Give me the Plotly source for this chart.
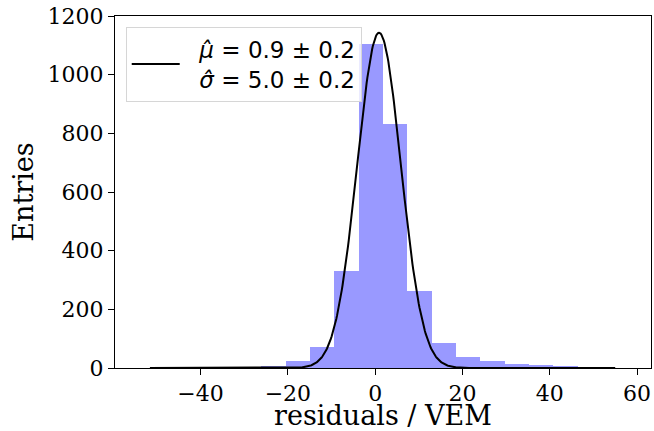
import numpy as np
import plotly.graph_objects as go

# Histogram: 20 bins between -54.0 and 57.6
bin_edges = list(np.linspace(-54.0, 57.6, 21))
counts = [0, 0, 0, 0, 1, 8, 23, 72, 330, 1105, 833, 261, 84, 38, 23, 15, 9, 7, 2, 1]

# Gaussian fit parameters (from legend) and curve amplitude
fit_mu = 0.9
fit_sigma = 5.0
fit_amplitude = 1143
curve_range = [-51.6, 55.0]

x_ticks = [-40, -20, 0, 20, 40, 60]
y_ticks = [0, 200, 400, 600, 800, 1000, 1200]

edges = np.array(bin_edges)
centers = 0.5 * (edges[:-1] + edges[1:])
widths = np.diff(edges)

xc = np.linspace(curve_range[0], curve_range[1], 600)
yc = fit_amplitude * np.exp(-0.5 * ((xc - fit_mu) / fit_sigma) ** 2)

fig = go.Figure()
fig.add_trace(go.Bar(
    x=centers, y=counts, width=widths,
    marker=dict(color="rgba(0,0,255,0.4)", line=dict(width=0)),
    showlegend=False, hoverinfo="skip",
))
nb = "\u00a0\u00a0"
fig.add_trace(go.Scatter(
    x=xc, y=yc, mode="lines",
    line=dict(color="black", width=2),
    name=f"{nb}<i>μ̂</i> = 0.9 ± 0.2<br>{nb}<i>σ̂</i> = 5.0 ± 0.2",
))

axis_common = dict(
    showline=True, linecolor="black", linewidth=1, mirror=True,
    ticks="outside", ticklen=6, tickcolor="black", tickwidth=1,
    showgrid=False, zeroline=False, automargin=False,
    ticklabeloverflow="allow",
    tickfont=dict(family="DejaVu Serif", size=22, color="black"),
)

fig.update_layout(
    width=654, height=431,
    margin=dict(l=115, r=3, t=16, b=63),
    paper_bgcolor="white", plot_bgcolor="white",
    bargap=0,
    xaxis=dict(
        range=[-59.6, 63.2], tickvals=x_ticks,
        ticktext=[str(v).replace("-", "−") for v in x_ticks],
        title=dict(text="residuals / VEM", font=dict(family="DejaVu Serif", size=27, color="black"), standoff=6),
        **axis_common,
    ),
    yaxis=dict(
        range=[0, 1200], tickvals=y_ticks,
        title=dict(text="Entries", font=dict(family="DejaVu Serif", size=27, color="black"), standoff=6),
        **axis_common,
    ),
    legend=dict(
        x=0.02, y=0.97, xanchor="left", yanchor="top",
        bgcolor="rgba(255,255,255,0.8)", bordercolor="#d6d6d6", borderwidth=1,
        font=dict(family="DejaVu Sans", size=23, color="black"),
        itemwidth=48,
    ),
    showlegend=True,
)

fig.write_html(
    "out.html",
    config={"displayModeBar": False},
    post_script="document.body.style.margin='0';document.body.style.overflow='hidden';"
                "document.documentElement.style.overflow='hidden';",
)
